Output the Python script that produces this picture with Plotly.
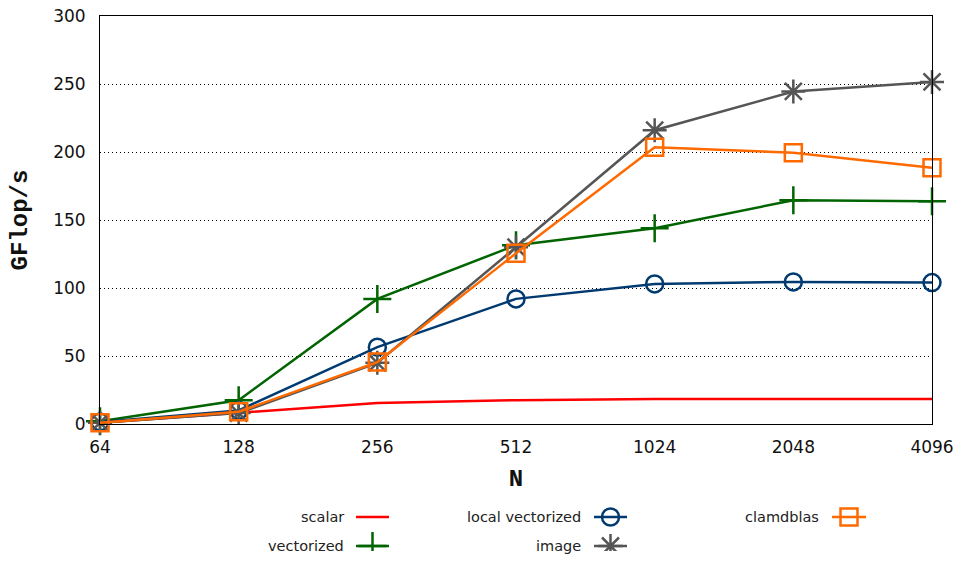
import plotly.graph_objects as go
import math

N = [64, 128, 256, 512, 1024, 2048, 4096]
tick_labels = ["64", "128", "256", "512", "1024", "2048", "4096"]

scalar = [1.0, 8.0, 15.5, 17.5, 18.3, 18.4, 18.4]
vectorized = [2.0, 17.5, 92.0, 131.5, 144.0, 164.5, 163.8]
local_vectorized = [1.5, 10.0, 56.5, 92.0, 103.0, 104.5, 104.0]
image = [1.0, 8.0, 45.0, 130.0, 216.0, 244.5, 251.5]
clamdblas = [1.0, 9.0, 45.5, 125.5, 203.5, 199.5, 188.5]

series_names = ["scalar", "vectorized", "local vectorized", "image", "clamdblas"]
series_values = [scalar, vectorized, local_vectorized, image, clamdblas]
colors = ["#ff0000", "#006400", "#003a70", "#555555", "#ff6a00"]
symbols = [None, "cross-thin-open", "circle-open", "asterisk-open", "square-open"]
sizes = [0, 20, 17, 20, 17]

# body margin is removed by post_script, so figure fills the 962x561 window
W, H = 962, 561
ML, MR, MT, MB = 100, 30, 16, 10
plot_h = H - MT - MB
y_bottom_px = 424
main_dom0 = (H - MB - y_bottom_px) / plot_h

fig = go.Figure()
for name, vals, c, s, sz in zip(series_names, series_values, colors, symbols, sizes):
    if s is None:
        fig.add_trace(go.Scatter(x=N, y=vals, mode="lines", name=name, cliponaxis=False,
                                 line=dict(color=c, width=2.5), showlegend=False))
    else:
        fig.add_trace(go.Scatter(x=N, y=vals, mode="lines+markers", name=name, cliponaxis=False,
                                 line=dict(color=c, width=2.5),
                                 marker=dict(symbol=s, size=sz, color=c,
                                             line=dict(color=c, width=2.5)),
                                 showlegend=False))

# custom gnuplot-style key on hidden axes (x2/y2 measured in pixels)
leg_dom1 = 0.14
leg_top_px = H - MB - leg_dom1 * plot_h
key_rows = [517, 546]
key_cols = [(346, 356, 389), (583, 594, 627), (821, 832, 866)]
key_pos = [(0, 0), (1, 0), (0, 1), (1, 1), (0, 2)]
for (name, c, s, sz), (r, col) in zip(zip(series_names, colors, symbols, sizes), key_pos):
    tx, x0, x1 = key_cols[col]
    yy = key_rows[r]
    fig.add_trace(go.Scatter(x=[x0, x1], y=[yy, yy], mode="lines", xaxis="x2", yaxis="y2",
                             line=dict(color=c, width=2.5), showlegend=False, hoverinfo="skip"))
    if s is not None:
        fig.add_trace(go.Scatter(x=[(x0 + x1) / 2], y=[yy], mode="markers", xaxis="x2", yaxis="y2",
                                 marker=dict(symbol=s, size=sz, color=c, line=dict(color=c, width=2.5)),
                                 showlegend=False, hoverinfo="skip"))
    fig.add_annotation(x=tx, y=yy, xref="x2", yref="y2", text=name, showarrow=False,
                       xanchor="right", yanchor="middle",
                       font=dict(family="DejaVu Sans", size=14.5, color="#222"))

eps = 1e-6
fig.update_layout(
    width=W, height=H,
    margin=dict(l=ML, r=MR, t=MT, b=MB, autoexpand=False),
    paper_bgcolor="white", plot_bgcolor="white",
    xaxis=dict(type="log", range=[math.log10(64) - eps, math.log10(4096) + eps], automargin=False,
               tickvals=N, ticktext=tick_labels, showgrid=False, zeroline=False,
               showline=True, mirror=True, linecolor="black", linewidth=1,
               anchor="y", ticks="", ticklabelstandoff=8, ticklabeloverflow="allow",
               tickfont=dict(family="DejaVu Sans", size=17, color="#111"),
               title=dict(text="<b>N</b>", standoff=12,
                          font=dict(family="Liberation Mono", size=24, color="#111"))),
    yaxis=dict(domain=[main_dom0, 1], range=[-eps, 300 + eps], dtick=50, automargin=False,
               showgrid=True, gridcolor="black", griddash="1px,3px", gridwidth=1,
               zeroline=False, showline=True, mirror=True, linecolor="black", linewidth=1,
               ticks="", ticklabelstandoff=10, ticklabeloverflow="allow",
               tickfont=dict(family="DejaVu Sans", size=17, color="#111"),
               title=dict(text="<b>GFlop/s</b>", standoff=18,
                          font=dict(family="Liberation Mono", size=24, color="#111"))),
    xaxis2=dict(domain=[0, 1], range=[ML, W - MR], visible=False, anchor="y2"),
    yaxis2=dict(domain=[0, leg_dom1], range=[H - MB, leg_top_px], visible=False, anchor="x2"),
)

fig.write_html("out.html", config={"displayModeBar": False},
               post_script="document.body.style.margin='0';document.body.style.overflow='hidden';")
